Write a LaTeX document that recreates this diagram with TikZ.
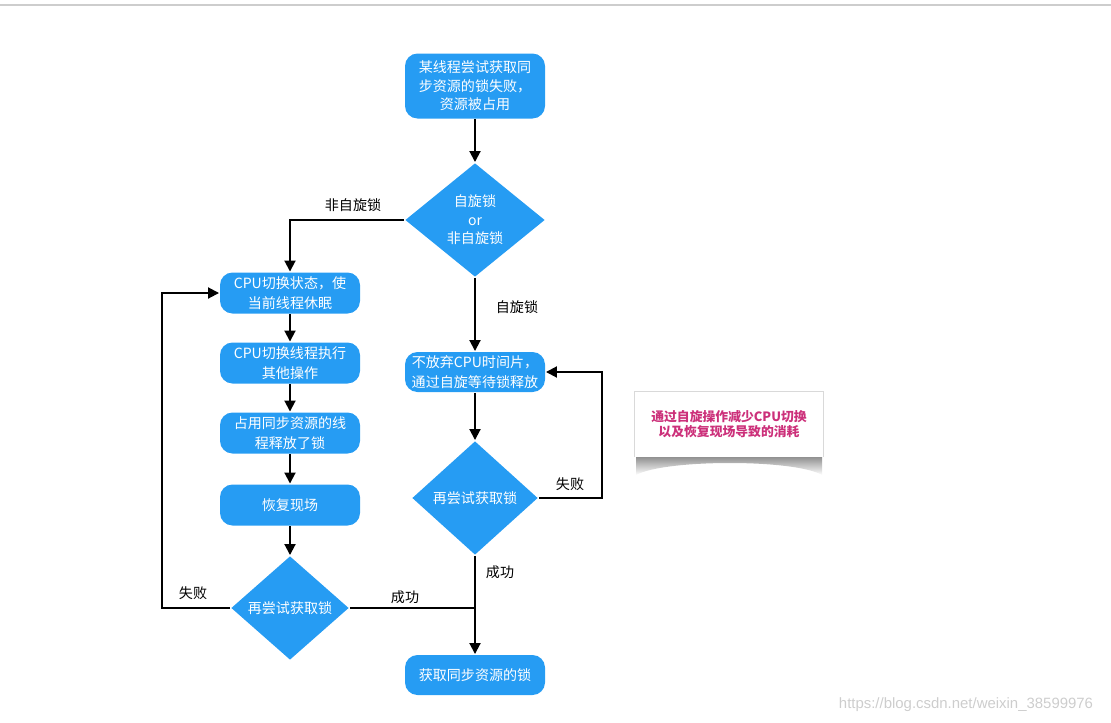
\documentclass[tikz,border=0pt]{standalone}
\usepackage{fontspec}
\setmainfont{Noto Sans CJK SC}
\setsansfont{Liberation Sans}
\usepackage{tikz}
\usetikzlibrary{shapes.geometric,arrows.meta,shadows}

\definecolor{flowblue}{RGB}{38,156,243}
\definecolor{notepink}{RGB}{204,48,122}
\definecolor{markgray}{RGB}{205,205,205}

\begin{document}
\begin{tikzpicture}[
    >={Triangle[length=2.2mm,width=2.2mm]},
    every path/.style={line width=1.1pt},
    box/.style={rectangle, rounded corners=0.25cm, fill=flowblue, text=white,
                minimum width=2.8cm, minimum height=0.82cm, inner sep=0pt,
                align=center, font=\fontsize{8}{11}\selectfont},
    choice/.style={diamond, fill=flowblue, text=white, inner sep=0pt,
                align=center, font=\fontsize{8}{10.5}\selectfont},
    tag/.style={font=\fontsize{8}{10}\selectfont}
  ]

    \useasboundingbox (0,0) rectangle (22.22,-14.46);
    \draw [markgray, line width=0.6pt] (0,-0.1) -- (22.22,-0.1);

    \coordinate (C1)  at (9.5, -1.72);
    \coordinate (C2)  at (9.5, -4.4);
    \coordinate (C3)  at (5.8, -5.86);
    \coordinate (C4)  at (5.8, -7.26);
    \coordinate (C5)  at (5.8, -8.66);
    \coordinate (C6)  at (5.8, -10.1);
    \coordinate (C7)  at (5.8, -12.16);
    \coordinate (C8)  at (9.5, -7.44);
    \coordinate (C9)  at (9.5, -9.96);
    \coordinate (C10) at (9.5, -13.5);
    \coordinate (C11) at (14.58, -8.48);

    \coordinate (K1) at (3.24, -5.86);
    \coordinate (K2) at (12.04, -7.44);

    % flow nodes
    \node [box, minimum height=1.3cm, font=\fontsize{8}{10.5}\selectfont] (N1) at (C1) {某线程尝试获取同\\步资源的锁失败，\\资源被占用};
    \node [choice, minimum width=2.8cm, minimum height=2.28cm] (N2) at (C2) {自旋锁\\or\\非自旋锁};
    \node [box] (N3)  at (C3)  {CPU切换状态，使\\当前线程休眠};
    \node [box] (N4)  at (C4)  {CPU切换线程执行\\其他操作};
    \node [box] (N5)  at (C5)  {占用同步资源的线\\程释放了锁};
    \node [box] (N6)  at (C6)  {恢复现场};
    \node [choice, minimum width=2.36cm, minimum height=2.08cm] (N7) at (C7) {再尝试获取锁};
    \node [box, minimum height=0.8cm] (N8)  at (C8)  {不放弃CPU时间片，\\通过自旋等待锁释放};
    \node [choice, minimum width=2.52cm, minimum height=2.28cm] (N9) at (C9) {再尝试获取锁};
    \node [box, minimum height=0.8cm] (N10) at (C10) {获取同步资源的锁};

    % branch texts
    \node [tag] (T1) at (7.06, -4.1)   {非自旋锁};
    \node [tag] (T2) at (10.34, -6.14) {自旋锁};
    \node [tag] (T3) at (3.86, -11.86) {失败};
    \node [tag] (T4) at (8.1, -11.94)  {成功};
    \node [tag] (T5) at (10.0, -11.44) {成功};
    \node [tag] (T6) at (11.4, -9.68)  {失败};

    \draw [->] (N1) -- (N2);
    \draw [->] (N2.west) -| (N3.north);
    \draw [->] (N2.south) -- (N8.north);

    \draw [->] (N3) -- (N4);
    \draw [->] (N4) -- (N5);
    \draw [->] (N5) -- (N6);
    \draw [->] (N6) -- (N7);

    \draw [->] (N7.west) -| (K1) -- (N3.west);
    \draw (N7.east) -- (N7.east -| N10.north);

    \draw [->] (N8) -- (N9);
    \draw [->] (N9.south) -- (N10.north);
    \draw [->] (N9.east) -| (K2) -- (N8.east);

    % note with curled shadow
    \shade [top color=black!60, bottom color=white, line width=0pt]
        (12.72, -9.0) -- (16.44, -9.0) -- (16.44, -9.5)
        .. controls (15.9, -9.18) and (13.3, -9.18) .. (12.72, -9.5) -- cycle;
    \node [rectangle, fill=white, minimum width=3.76cm, minimum height=1.3cm,
           drop shadow={opacity=0.3, shadow xshift=0pt, shadow yshift=0pt, shadow scale=1.015},
           text=notepink, align=center, font=\bfseries\fontsize{7.3}{8.6}\selectfont]
          (N11) at (C11) {通过自旋操作减少CPU切换\\以及恢复现场导致的消耗};

    \node [text=markgray, font=\sffamily\fontsize{8.5}{10}\selectfont] (W1) at (19.32, -14.1)
          {https://blog.csdn.net/weixin\_38599976};

\end{tikzpicture}
\end{document}
